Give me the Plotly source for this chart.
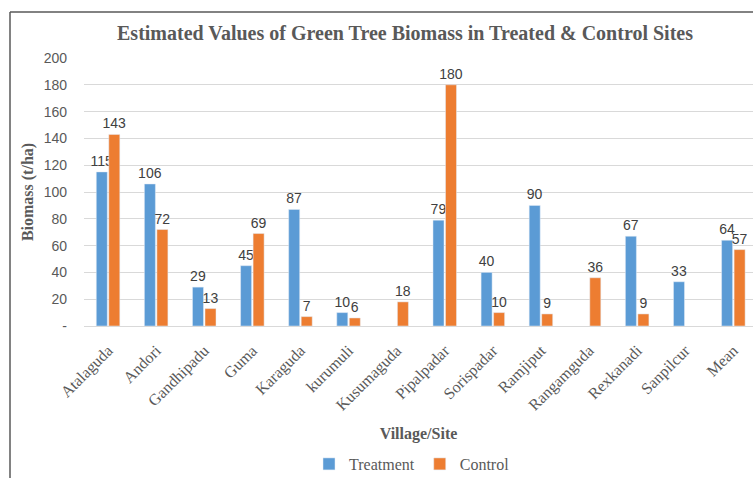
import plotly.graph_objects as go

villages = ["Atalaguda", "Andori", "Gandhipadu", "Guma", "Karaguda", "kurumuli",
            "Kusumaguda", "Pipalpadar", "Sorispadar", "Ramjiput", "Rangamguda",
            "Rexkanadi", "Sanpilcur", "Mean"]
treatment = [115, 106, 29, 45, 87, 10, None, 79, 40, 90, None, 67, 33, 64]
control = [143, 72, 13, 69, 7, 6, 18, 180, 10, 9, 36, 9, None, 57]
y_ticks = [0, 20, 40, 60, 80, 100, 120, 140, 160, 180, 200]
y_tick_labels = ["-", "20", "40", "60", "80", "100", "120", "140", "160", "180", "200"]

BLUE = "#5B9BD5"
ORANGE = "#ED7D31"
GRAY = "#595959"
SERIF = "Liberation Serif, Times New Roman, serif"
SANS = "Liberation Sans, Arial, sans-serif"

fig = go.Figure()
fig.add_trace(go.Bar(
    x=villages, y=treatment, name="Treatment", marker_color=BLUE,
    texttemplate="%{y}", textposition="outside", constraintext="none",
    cliponaxis=False, textfont=dict(family=SANS, size=14, color="#404040"),
))
fig.add_trace(go.Bar(
    x=villages, y=control, name="Control", marker_color=ORANGE,
    texttemplate="%{y}", textposition="outside", constraintext="none",
    cliponaxis=False, textfont=dict(family=SANS, size=14, color="#404040"),
))

W, H = 753, 478
L, T, B = 84, 58, 152
plot_w = W - L
plot_h = H - T - B
cat_w = 48.1
x_hi = -0.5 + plot_w / cat_w


def px_x(p):
    return (p - L) / plot_w


def px_y(p):
    return (H - B - p) / plot_h


fig.update_layout(
    width=W, height=H,
    margin=dict(l=L, r=0, t=T, b=B, autoexpand=False),
    paper_bgcolor="white", plot_bgcolor="white",
    barmode="group", bargap=0.48, bargroupgap=0.12,
    title=dict(
        text="<b>Estimated Values of Green Tree Biomass in Treated & Control Sites</b>",
        font=dict(family=SERIF, size=20, color=GRAY),
        x=405 / W, xanchor="center", y=1 - 33 / H, yanchor="middle",
        xref="container", yref="container",
    ),
    xaxis=dict(
        range=[-0.5, x_hi], tickangle=-45,
        tickfont=dict(family=SERIF, size=16, color=GRAY),
        showline=True, linecolor="#D9D9D9", linewidth=1,
        showgrid=False, ticks="", automargin=False, ticklabelstandoff=8,
        title=dict(text="<b>Village/Site</b>", font=dict(family=SERIF, size=16, color=GRAY),
                   standoff=14),
    ),
    yaxis=dict(
        range=[0, 200], tickvals=y_ticks, ticktext=y_tick_labels,
        tickfont=dict(family=SANS, size=14, color=GRAY),
        showgrid=True, gridcolor="#D9D9D9", gridwidth=1, zeroline=False,
        ticks="", ticklabelstandoff=16, automargin=False,
        title=dict(text="<b>Biomass (t/ha)</b>", font=dict(family=SERIF, size=16, color=GRAY),
                   standoff=6),
    ),
    legend=dict(
        orientation="h", x=px_x(412), xanchor="center", y=px_y(464), yanchor="middle",
        font=dict(family=SERIF, size=16, color=GRAY), itemwidth=30,
        traceorder="normal",
    ),
    shapes=[
        dict(type="line", xref="paper", yref="paper",
             x0=px_x(10), x1=px_x(760), y0=px_y(12), y1=px_y(12),
             line=dict(color=GRAY, width=1.5)),
        dict(type="line", xref="paper", yref="paper",
             x0=px_x(10), x1=px_x(10), y0=px_y(12), y1=px_y(485),
             line=dict(color=GRAY, width=1.5)),
    ],
)

fig.write_html("out.html")
